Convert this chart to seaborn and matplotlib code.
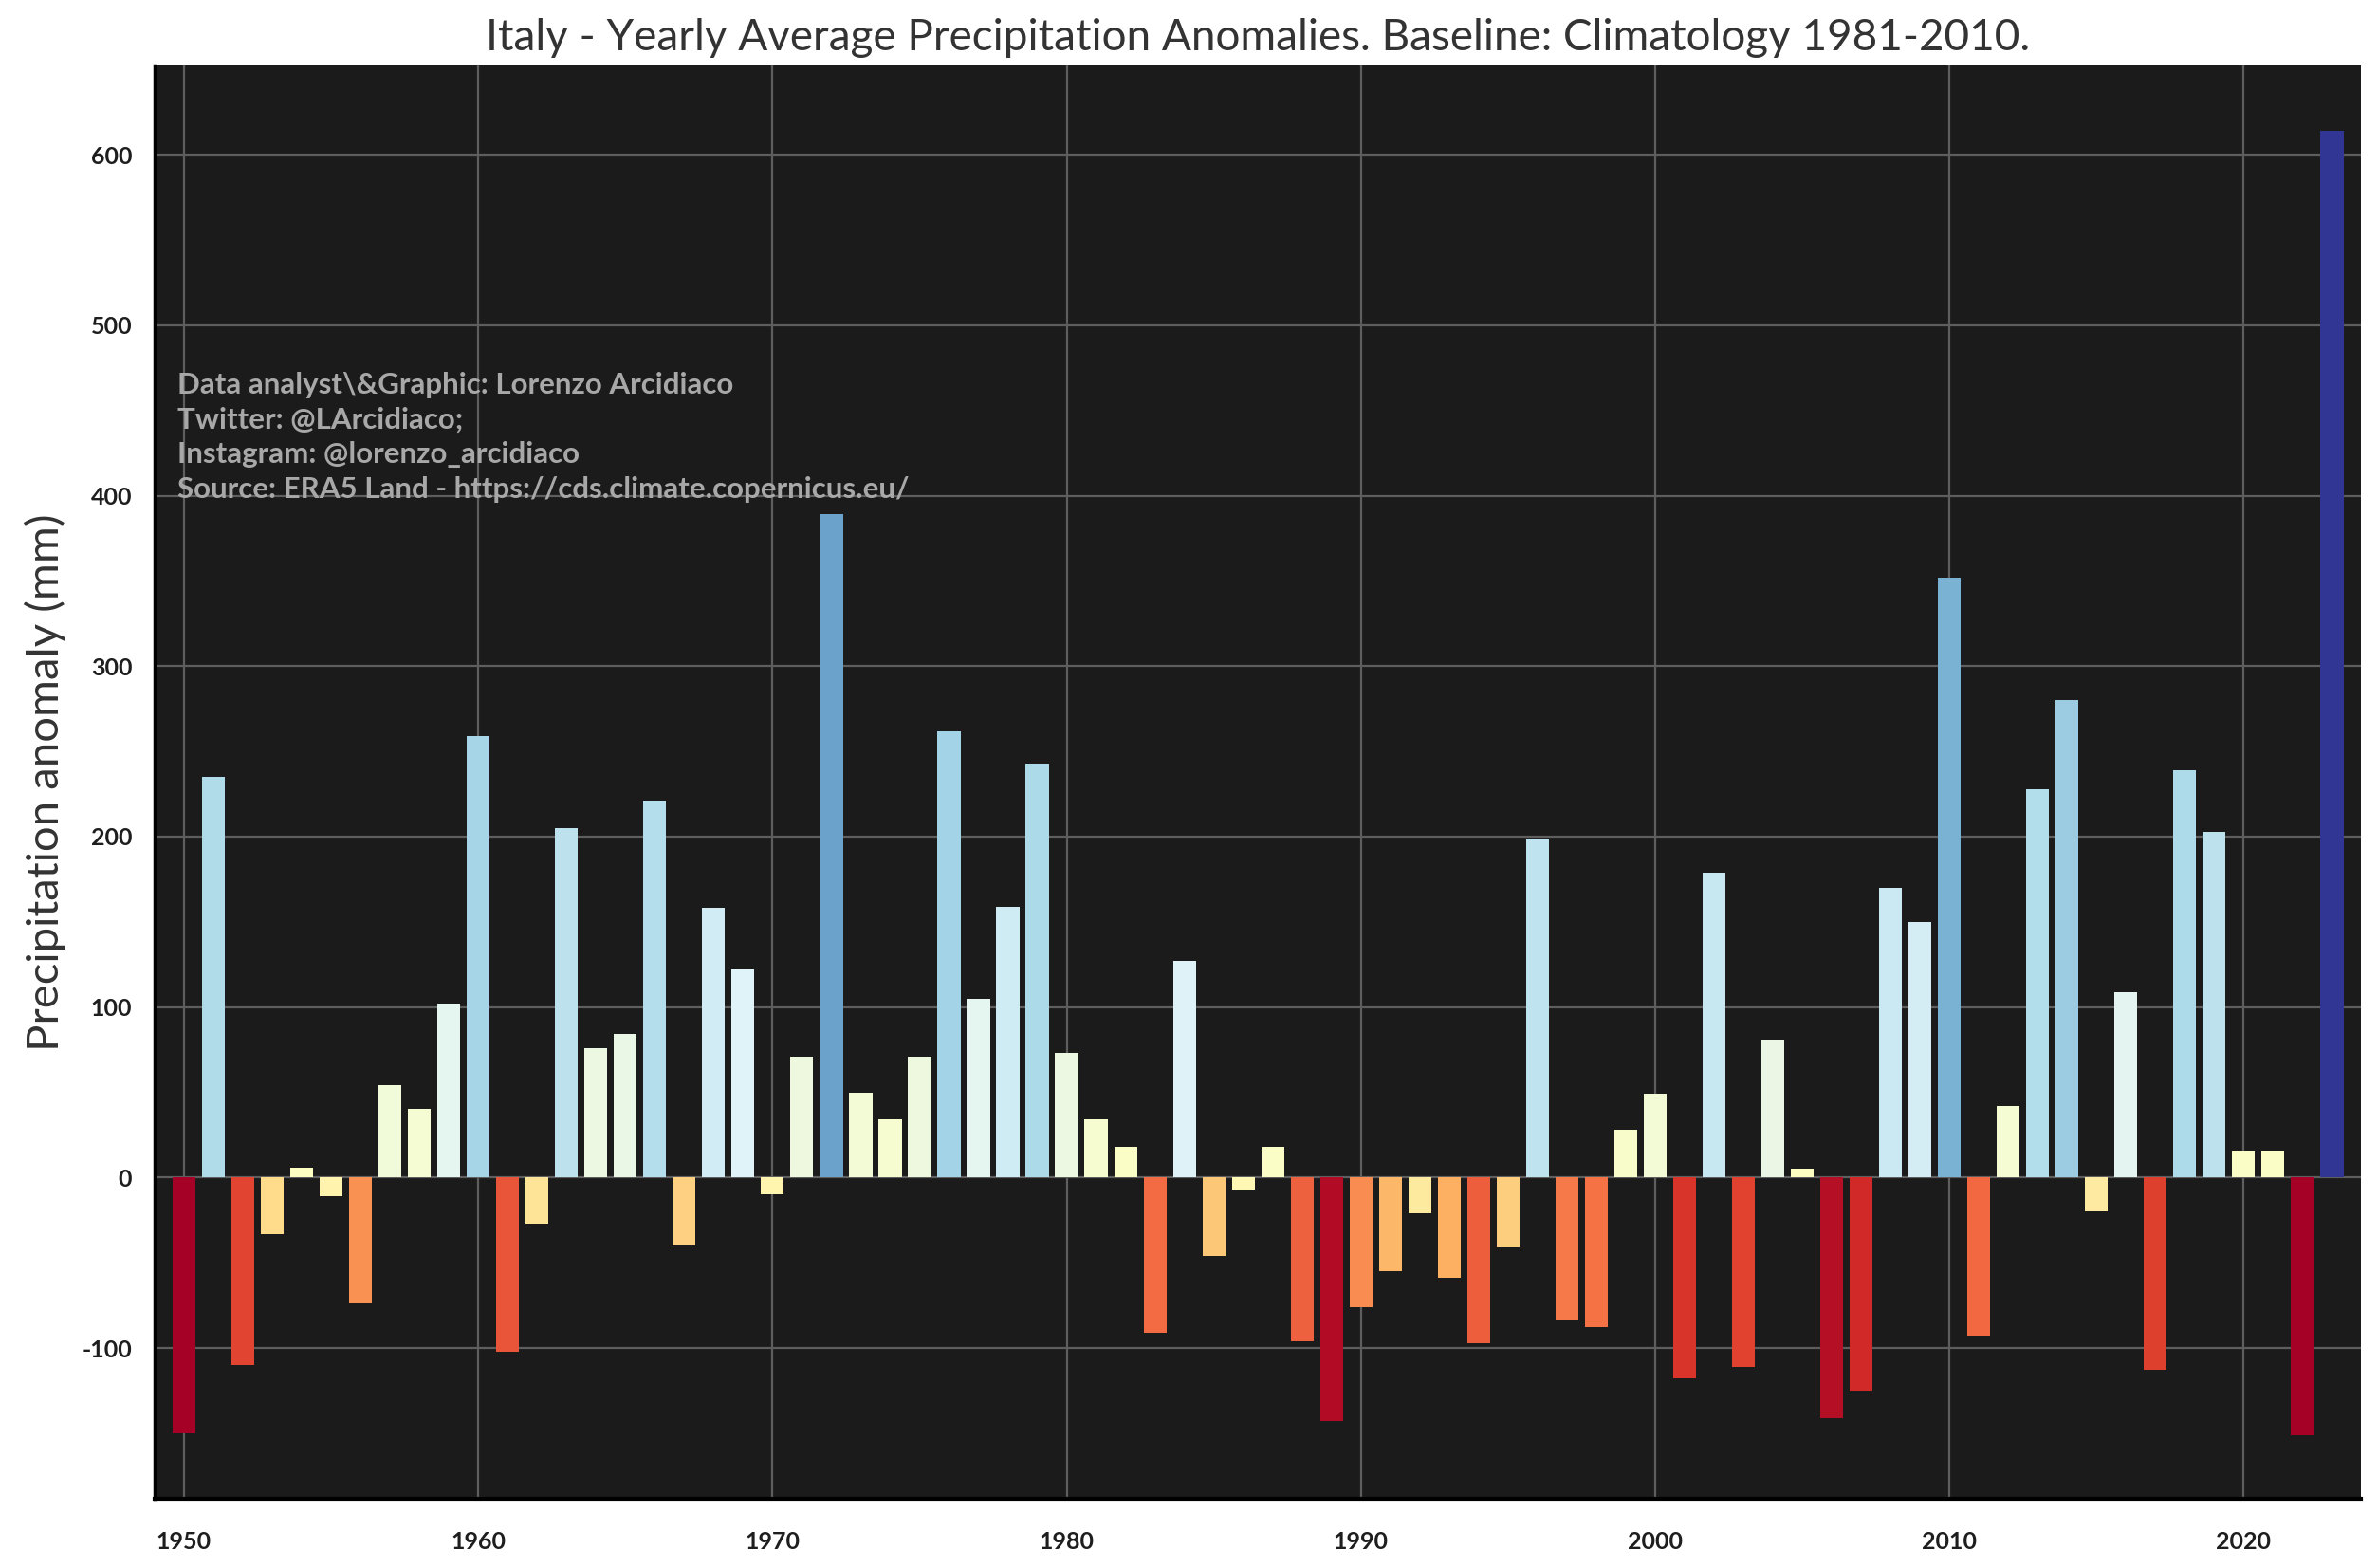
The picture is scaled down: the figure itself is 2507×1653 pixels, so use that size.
import numpy as np
import pandas as pd
import matplotlib
matplotlib.use("Agg")
import matplotlib.pyplot as plt
import matplotlib.colors as mcolors
import seaborn as sns

years = list(range(1950, 2024))
anomaly = [
    -150, 235, -110, -33, 6, -11, -74, 54, 40, 102,   # 1950-1959
    259, -102, -27, 205, 76, 84, 221, -40, 158, 122,  # 1960-1969
    -10, 71, 389, 50, 34, 71, 262, 105, 159, 243,     # 1970-1979
    73, 34, 18, -91, 127, -46, -7, 18, -96, -143,     # 1980-1989
    -76, -55, -21, -59, -97, -41, 199, -84, -88, 28,  # 1990-1999
    49, -118, 179, -111, 81, 5, -141, -125, 170, 150, # 2000-2009
    352, -93, 42, 228, 280, -20, 109, -113, 239, 203, # 2010-2019
    16, 16, -151, 614,                                # 2020-2023
]
y_ticks = [-100, 0, 100, 200, 300, 400, 500, 600]
x_ticks = [1950, 1960, 1970, 1980, 1990, 2000, 2010, 2020]

title = "Italy - Yearly Average Precipitation Anomalies. Baseline: Climatology 1981-2010."
ylabel = "Precipitation anomaly (mm)"
credits = ("Data analyst\\&Graphic: Lorenzo Arcidiaco\n"
           "Twitter: @LArcidiaco;\n"
           "Instagram: @lorenzo_arcidiaco\n"
           "Source: ERA5 Land - https://cds.climate.copernicus.eu/")

df = pd.DataFrame({"year": years, "anomaly": anomaly})

cmap = plt.get_cmap("RdYlBu")
norm = mcolors.TwoSlopeNorm(vmin=min(anomaly), vcenter=0, vmax=max(anomaly))
palette = {y: cmap(norm(v)) for y, v in zip(years, anomaly)}

sns.set_theme(style="white")
plt.rcParams["font.family"] = ["Lato", "DejaVu Sans"]

fig = plt.figure(figsize=(25.07, 16.53), dpi=100)
fig.patch.set_facecolor("white")
ax = fig.add_axes([0.065, 0.044, 0.928, 0.914])
ax.set_facecolor("#1b1b1b")

sns.barplot(data=df, x="year", y="anomaly", hue="year", palette=palette,
            native_scale=True, legend=False, saturation=1, width=0.78,
            ax=ax, zorder=3, linewidth=0)

ax.set_xlim(1949, 2024)
ax.set_ylim(-188.6, 652.2)
ax.set_xticks(x_ticks)
ax.set_yticks(y_ticks)
ax.set_xticklabels([str(t) for t in x_ticks], fontweight="bold", fontsize=18, color="#1e1e1e")
ax.set_yticklabels([str(t) for t in y_ticks], fontweight="bold", fontsize=18, color="#1e1e1e")
ax.tick_params(axis="both", length=0)
ax.tick_params(axis="y", pad=17)
ax.tick_params(axis="x", pad=24)

ax.grid(True, color="#5e5e5e", linewidth=1.6, zorder=0)
ax.set_axisbelow(True)

for s in ["top", "right"]:
    ax.spines[s].set_visible(False)
ax.spines["left"].set_color("black")
ax.spines["left"].set_linewidth(2.5)
ax.spines["bottom"].set_color("black")
ax.spines["bottom"].set_linewidth(3)

ax.set_xlabel("")
ax.set_ylabel(ylabel, fontsize=34, color="#333333", labelpad=12)
ax.set_title(title, fontsize=33, color="#333333", pad=12)

ax.text(1949.76, 396, credits, fontsize=22.5, fontweight="bold", color="#a8a8a8",
        va="bottom", ha="left", linespacing=1.37, zorder=4)

fig.savefig("out.png", dpi=100, facecolor="white")
